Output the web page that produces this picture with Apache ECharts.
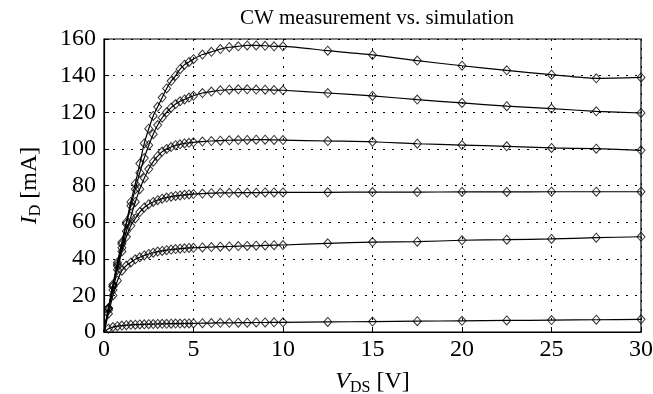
<!DOCTYPE html>
<html>
<head>
<meta charset="utf-8">
<script src="https://cdn.jsdelivr.net/npm/echarts@6/dist/echarts.min.js"></script>
<style>
  html, body { margin: 0; padding: 0; background: #fff; }
  #chart { width: 653px; height: 394px; }
</style>
</head>
<body>
<div id="chart"></div>
<script>
// drain voltage steps of the measurement (V)
const vds = [0.25, 0.5, 0.75, 1, 1.25, 1.5, 1.75, 2, 2.25, 2.5, 2.75, 3, 3.25, 3.5, 3.75, 4, 4.25, 4.5, 4.75, 5,
  5.5, 6, 6.5, 7, 7.5, 8, 8.5, 9, 9.5, 10,
  12.5, 15, 17.5, 20, 22.5, 25, 27.5, 30];

// drain current per gate bias (mA), top curve first
const id1 = [13, 26, 38, 49, 60, 71, 81, 92, 103, 111, 118, 123, 128, 133, 137, 140, 143.5, 146, 147.5, 149,
  151.5, 153, 154.5, 155.5, 156, 156.5, 156.5, 156.3, 156, 156,
  153.6, 151.3, 148.2, 145.4, 142.9, 140.5, 138.5, 139];
const id2 = [13, 25, 37, 48, 59, 69, 78, 87, 95, 102, 108, 113, 117, 120, 122.5, 124.5, 126, 127, 128, 129,
  130.5, 131.3, 132, 132.3, 132.5, 132.5, 132.4, 132.3, 132.1, 132,
  130.5, 128.9, 126.9, 125.1, 123.3, 122, 120.5, 119.6];
const id3 = [13, 25, 36, 46, 55, 63, 71, 78, 84, 89, 93, 96, 98.5, 100, 101, 102, 102.5, 103, 103.3, 103.6,
  104, 104.3, 104.5, 104.7, 104.8, 104.9, 105, 105, 104.9, 104.8,
  104.3, 103.9, 102.8, 102.1, 101.4, 100.5, 100.1, 99.2];
const id4 = [12, 23, 34, 44, 52, 58, 62, 65.5, 68, 69.8, 71, 72, 72.8, 73.4, 73.9, 74.3, 74.6, 74.9, 75.1, 75.3,
  75.6, 75.8, 76, 76, 76.1, 76.1, 76.1, 76.2, 76.2, 76.2,
  76.3, 76.4, 76.4, 76.5, 76.5, 76.6, 76.6, 76.6];
const id5 = [10, 20, 28, 33.5, 36.3, 38, 39.7, 40.8, 41.8, 42.6, 43.3, 43.9, 44.3, 44.7, 45, 45.3, 45.5, 45.7, 45.9, 46,
  46.2, 46.4, 46.6, 46.7, 46.9, 47, 47.1, 47.3, 47.4, 47.5,
  48.4, 49.1, 49.3, 50.1, 50.4, 50.8, 51.5, 52];
const id6 = [1.8, 2.7, 3.2, 3.5, 3.7, 3.9, 4.0, 4.1, 4.2, 4.3, 4.35, 4.4, 4.45, 4.5, 4.55, 4.6, 4.6, 4.65, 4.7, 4.7,
  4.8, 4.9, 5.0, 5.0, 5.1, 5.1, 5.2, 5.2, 5.3, 5.3,
  5.5, 5.7, 5.9, 6.1, 6.3, 6.5, 6.7, 6.9];

const curves = [id1, id2, id3, id4, id5, id6];
const xTicks = [0, 5, 10, 15, 20, 25, 30];
const yTicks = [0, 20, 40, 60, 80, 100, 120, 140, 160];

const font = "Liberation Serif";
const chart = echarts.init(document.getElementById("chart"));

const series = [];
curves.forEach((ids) => {
  const pts = vds.map((v, i) => [v, ids[i]]);
  // simulation (solid line, from the origin)
  series.push({
    type: "line",
    data: [[0, 0]].concat(pts),
    showSymbol: false,
    smooth: 0.25,
    lineStyle: { color: "#000", width: 1.2 },
    z: 2,
    silent: true
  });
  // measurement (hollow diamonds)
  series.push({
    type: "scatter",
    data: pts,
    symbol: "diamond",
    symbolSize: [8, 9],
    itemStyle: { color: "rgba(255,255,255,0)", borderColor: "#000", borderWidth: 1 },
    z: 3,
    silent: true
  });
});

const gridLine = { show: true, lineStyle: { color: "#000", width: 1, type: [2, 7] } };

const nameRich = {
  i: { fontFamily: font, fontSize: 24, fontStyle: "italic", lineHeight: 28 },
  s: { fontFamily: font, fontSize: 16, lineHeight: 16, verticalAlign: "bottom" }
};

const option = {
  animation: false,
  backgroundColor: "#fff",
  title: {
    text: "CW measurement vs. simulation",
    left: 372,
    textAlign: "center",
    top: 3,
    textStyle: { fontFamily: font, fontSize: 21, fontWeight: "normal", color: "#000" }
  },
  grid: {
    left: 104, right: 12, top: 39, bottom: 62,
    outerBoundsMode: "none",
    containLabel: false,
    show: true, borderColor: "#000", borderWidth: 1.2, backgroundColor: "transparent"
  },
  xAxis: {
    type: "value",
    min: xTicks[0], max: xTicks[xTicks.length - 1], interval: 5,
    axisLine: { show: true, onZero: false, lineStyle: { color: "#000", width: 1.2 } },
    axisTick: { show: true, inside: true, length: 5, lineStyle: { color: "#000" } },
    splitLine: gridLine,
    axisLabel: { fontFamily: font, fontSize: 24, color: "#000", margin: 6 },
    name: "{i|V}{s|DS} [V]",
    nameLocation: "middle",
    nameGap: 36,
    nameTextStyle: { fontFamily: font, fontSize: 24, color: "#000", rich: nameRich }
  },
  yAxis: {
    type: "value",
    min: yTicks[0], max: yTicks[yTicks.length - 1], interval: 20,
    axisLine: { show: true, lineStyle: { color: "#000", width: 1.2 } },
    axisTick: { show: true, inside: true, length: 5, lineStyle: { color: "#000" } },
    splitLine: gridLine,
    axisLabel: { fontFamily: font, fontSize: 24, color: "#000", margin: 8 },
    name: "{i|I}{s|D} [mA]",
    nameLocation: "middle",
    nameGap: 60,
    nameRotate: 90,
    nameTextStyle: { fontFamily: font, fontSize: 24, color: "#000", rich: nameRich }
  },
  series: series
};

chart.setOption(option);
</script>
</body>
</html>
